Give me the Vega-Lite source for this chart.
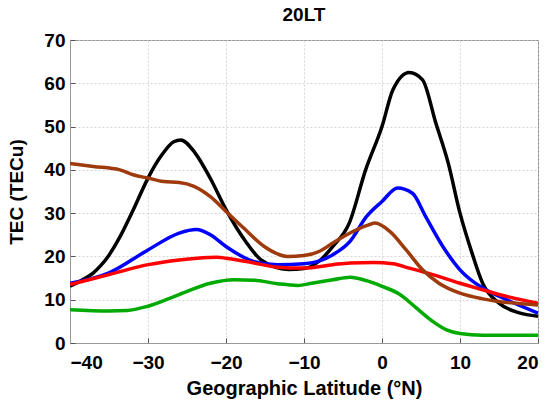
{
  "$schema": "https://vega.github.io/schema/vega-lite/v6.json",
  "autosize": "none",
  "width": 468,
  "height": 303,
  "padding": {"left": 70, "top": 40, "right": 13, "bottom": 62},
  "background": "white",
  "title": {"text": "20LT", "fontSize": 19, "font": "Liberation Sans", "fontWeight": "bold", "color": "#000", "offset": 6},
  "config": {
    "view": {"stroke": "#888", "strokeWidth": 1},
    "axis": {
      "labelFont": "Liberation Sans", "labelFontWeight": "bold", "labelFontSize": 19, "labelColor": "#000",
      "titleFont": "Liberation Sans", "titleFontWeight": "bold", "titleColor": "#000",
      "domainColor": "#999", "tickColor": "#555", "tickSize": -5,
      "gridColor": "#ccc", "gridDash": [2, 2], "gridWidth": 0.8
    }
  },
  "data": {"values": [
    {"s": "black", "x": -40, "y": 13.1}, {"s": "black", "x": -38.5, "y": 14.5}, {"s": "black", "x": -37, "y": 16.2}, {"s": "black", "x": -36.1, "y": 17.8}, {"s": "black", "x": -35, "y": 20.3}, {"s": "black", "x": -33.6, "y": 24.5}, {"s": "black", "x": -31.9, "y": 30.7}, {"s": "black", "x": -30, "y": 38.1}, {"s": "black", "x": -28.4, "y": 43}, {"s": "black", "x": -26.7, "y": 46.5}, {"s": "black", "x": -25.8, "y": 46.9}, {"s": "black", "x": -24, "y": 44}, {"s": "black", "x": -22, "y": 38}, {"s": "black", "x": -20, "y": 30.8}, {"s": "black", "x": -17.5, "y": 23.5}, {"s": "black", "x": -15.5, "y": 19.2}, {"s": "black", "x": -12, "y": 17}, {"s": "black", "x": -10, "y": 17.2}, {"s": "black", "x": -8, "y": 19}, {"s": "black", "x": -6.3, "y": 22.3}, {"s": "black", "x": -4.2, "y": 27.7}, {"s": "black", "x": -2.1, "y": 40}, {"s": "black", "x": 0, "y": 50}, {"s": "black", "x": 1.4, "y": 58.5}, {"s": "black", "x": 3.5, "y": 62.5}, {"s": "black", "x": 5.2, "y": 60.8}, {"s": "black", "x": 6.9, "y": 50.8}, {"s": "black", "x": 8.5, "y": 41.5}, {"s": "black", "x": 10, "y": 30}, {"s": "black", "x": 11.5, "y": 21}, {"s": "black", "x": 12.9, "y": 13.8}, {"s": "black", "x": 15, "y": 9.2}, {"s": "black", "x": 17.5, "y": 7}, {"s": "black", "x": 20, "y": 6.2},
    {"s": "blue", "x": -40, "y": 13.8}, {"s": "blue", "x": -35, "y": 16.2}, {"s": "blue", "x": -30, "y": 21.5}, {"s": "blue", "x": -26, "y": 25.4}, {"s": "blue", "x": -23.8, "y": 26.2}, {"s": "blue", "x": -22, "y": 25}, {"s": "blue", "x": -20, "y": 22.3}, {"s": "blue", "x": -16.4, "y": 18.8}, {"s": "blue", "x": -13.4, "y": 18.1}, {"s": "blue", "x": -10, "y": 18.3}, {"s": "blue", "x": -6.3, "y": 20.4}, {"s": "blue", "x": -4.1, "y": 23.5}, {"s": "blue", "x": -2, "y": 29.2}, {"s": "blue", "x": 0, "y": 32.7}, {"s": "blue", "x": 2, "y": 35.8}, {"s": "blue", "x": 3.9, "y": 34.6}, {"s": "blue", "x": 5.6, "y": 29.2}, {"s": "blue", "x": 7.8, "y": 22.3}, {"s": "blue", "x": 10, "y": 16.9}, {"s": "blue", "x": 12.9, "y": 12.7}, {"s": "blue", "x": 15, "y": 10.8}, {"s": "blue", "x": 20, "y": 6.9},
    {"s": "red", "x": -40, "y": 13.5}, {"s": "red", "x": -35, "y": 15.8}, {"s": "red", "x": -30, "y": 18.1}, {"s": "red", "x": -26, "y": 19.2}, {"s": "red", "x": -23.7, "y": 19.6}, {"s": "red", "x": -21.1, "y": 19.8}, {"s": "red", "x": -20, "y": 19.6}, {"s": "red", "x": -16.4, "y": 18.5}, {"s": "red", "x": -13.4, "y": 17.5}, {"s": "red", "x": -10, "y": 17.3}, {"s": "red", "x": -6.3, "y": 18.1}, {"s": "red", "x": -4.1, "y": 18.5}, {"s": "red", "x": -1.1, "y": 18.6}, {"s": "red", "x": 1.4, "y": 18.3}, {"s": "red", "x": 3.5, "y": 17.3}, {"s": "red", "x": 6.5, "y": 15.8}, {"s": "red", "x": 10, "y": 13.8}, {"s": "red", "x": 12.9, "y": 12.3}, {"s": "red", "x": 15, "y": 11.2}, {"s": "red", "x": 20, "y": 9.2},
    {"s": "green", "x": -40, "y": 7.7}, {"s": "green", "x": -35, "y": 7.4}, {"s": "green", "x": -32.7, "y": 7.5}, {"s": "green", "x": -30, "y": 8.5}, {"s": "green", "x": -26, "y": 11.2}, {"s": "green", "x": -22, "y": 13.8}, {"s": "green", "x": -19, "y": 14.6}, {"s": "green", "x": -16.4, "y": 14.5}, {"s": "green", "x": -13.4, "y": 13.7}, {"s": "green", "x": -10.8, "y": 13.3}, {"s": "green", "x": -9, "y": 13.8}, {"s": "green", "x": -6.3, "y": 14.6}, {"s": "green", "x": -4.1, "y": 15.2}, {"s": "green", "x": -2, "y": 14.4}, {"s": "green", "x": 0, "y": 13.1}, {"s": "green", "x": 2.3, "y": 11.2}, {"s": "green", "x": 4.4, "y": 8.1}, {"s": "green", "x": 6.5, "y": 5}, {"s": "green", "x": 8.2, "y": 3.1}, {"s": "green", "x": 10, "y": 2.2}, {"s": "green", "x": 12.9, "y": 1.8}, {"s": "green", "x": 20, "y": 1.8},
    {"s": "brown", "x": -40, "y": 41.5}, {"s": "brown", "x": -37, "y": 40.8}, {"s": "brown", "x": -33.6, "y": 40}, {"s": "brown", "x": -31.8, "y": 38.8}, {"s": "brown", "x": -30, "y": 38.1}, {"s": "brown", "x": -28, "y": 37.3}, {"s": "brown", "x": -26, "y": 37.1}, {"s": "brown", "x": -24.1, "y": 36.2}, {"s": "brown", "x": -22, "y": 33.8}, {"s": "brown", "x": -20, "y": 30.4}, {"s": "brown", "x": -17.7, "y": 26.5}, {"s": "brown", "x": -15.1, "y": 22.3}, {"s": "brown", "x": -12.1, "y": 20}, {"s": "brown", "x": -10, "y": 20.2}, {"s": "brown", "x": -8, "y": 21.2}, {"s": "brown", "x": -6.3, "y": 23.1}, {"s": "brown", "x": -4.1, "y": 25.4}, {"s": "brown", "x": -2, "y": 27.1}, {"s": "brown", "x": -0.9, "y": 27.7}, {"s": "brown", "x": 1, "y": 25.8}, {"s": "brown", "x": 3.1, "y": 21.5}, {"s": "brown", "x": 5.2, "y": 16.9}, {"s": "brown", "x": 7.3, "y": 13.8}, {"s": "brown", "x": 10, "y": 11.5}, {"s": "brown", "x": 12.9, "y": 10.2}, {"s": "brown", "x": 15, "y": 9.6}, {"s": "brown", "x": 20, "y": 8.8}
  ]},
  "mark": {"type": "line", "strokeWidth": 3.5, "interpolate": "monotone", "clip": true},
  "encoding": {
    "x": {"field": "x", "type": "quantitative", "scale": {"domain": [-40, 20], "nice": false},
      "axis": {"title": "Geographic Latitude (°N)", "titleFontSize": 20, "values": [-40, -30, -20, -10, 0, 10, 20], "labelPadding": 15, "titlePadding": 6}},
    "y": {"field": "y", "type": "quantitative", "scale": {"domain": [0, 70], "nice": false},
      "axis": {"title": "TEC (TECu)", "titleFontSize": 19, "values": [0, 10, 20, 30, 40, 50, 60, 70], "labelPadding": 10, "titlePadding": 17}},
    "color": {"field": "s", "type": "nominal", "legend": null,
      "scale": {"domain": ["black", "blue", "red", "green", "brown"], "range": ["#000000", "#0000ff", "#ff0000", "#00aa00", "#9e3a0c"]}},
    "order": {"field": "x", "type": "quantitative"}
  }
}
